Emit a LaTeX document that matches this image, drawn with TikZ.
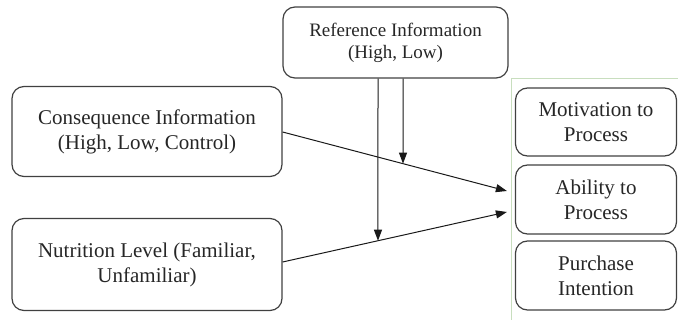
\documentclass[tikz,border=0pt]{standalone}
\usepackage{fontspec}
\setmainfont{Liberation Serif}
\usetikzlibrary{arrows.meta,calc}
\definecolor{framegreen}{RGB}{200,222,190}
\begin{document}
\begin{tikzpicture}[x=1pt,y=-1pt,
  box/.style={draw=black!75, line width=1.2pt, rounded corners=12pt, align=center,
    inner sep=0pt, text=black!85, font=\fontsize{21}{25}\selectfont},
  arr/.style={draw=black!90, line width=1pt, -{Triangle[length=11pt,width=8pt]}},
  frame/.style={draw=framegreen, line width=1pt}]
\useasboundingbox (0,0) rectangle (678,320);
\clip (0,0) rectangle (678,320);
\draw[frame] (511,79) rectangle (690,330);
\node[box, minimum width=225pt, minimum height=71pt, font=\fontsize{19}{22}\selectfont] (ref) at (395.5,42.5) {Reference Information\\(High, Low)};
\node[box, minimum width=270pt, minimum height=90pt] (cons) at (147,131.5) {Consequence Information\\(High, Low, Control)};
\node[box, minimum width=270pt, minimum height=92pt] (nut) at (147,264.5) {Nutrition Level (Familiar,\\Unfamiliar)};
\node[box, minimum width=161pt, minimum height=68pt] (mot) at (596,122) {Motivation to\\Process};
\node[box, minimum width=161pt, minimum height=69pt] (abil) at (596,199.5) {Ability to\\Process};
\node[box, minimum width=161pt, minimum height=69pt] (pur) at (596,275.5) {Purchase\\Intention};
\coordinate (c1) at ($(cons.east)+(0,0.5)$);
\coordinate (t1) at ($(abil.west)+(-8,-8.5)$);
\coordinate (n1) at ($(nut.east)+(0,-2.5)$);
\coordinate (t2) at ($(abil.west)+(-8,12.5)$);
\draw[arr] (c1) -- (t1);
\draw[arr] (n1) -- (t2);
\coordinate (r1) at ($(ref.south)+(-17.5,0)$);
\coordinate (r1b) at ($(r1)+(0,300)$);
\coordinate (r2) at ($(ref.south)+(7.5,0)$);
\coordinate (r2b) at ($(r2)+(0,300)$);
\draw[arr] (r1) -- (intersection of r1--r1b and n1--t2);
\draw[arr] (r2) -- (intersection of r2--r2b and c1--t1);
\end{tikzpicture}
\end{document}
